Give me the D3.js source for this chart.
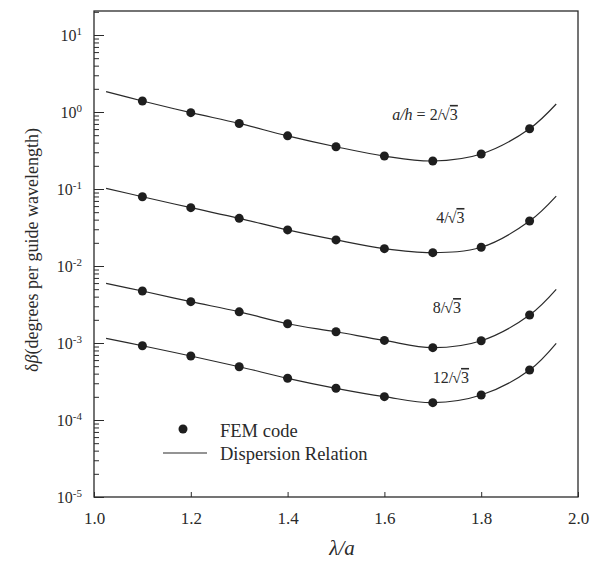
<!DOCTYPE html>
<html>
<head>
<meta charset="utf-8">
<script src="https://cdn.jsdelivr.net/npm/d3@7"></script>
<style>
  body { margin: 0; background: #fff; }
</style>
</head>
<body>
<div id="chart"></div>
<script>
// x positions of the FEM points and of the curve ends
var lambdaPts = [1.1, 1.2, 1.3, 1.4, 1.5, 1.6, 1.7, 1.8, 1.9]
var lambdaLine = [1.025, 1.1, 1.2, 1.3, 1.4, 1.5, 1.6, 1.7, 1.8, 1.9, 1.955]

// FEM code points, one array per a/h
var fem_2 = [1.39, 0.98, 0.71, 0.49, 0.354, 0.268, 0.231, 0.285, 0.607]
var fem_4 = [0.0794, 0.0572, 0.0416, 0.0294, 0.0218, 0.0168, 0.0149, 0.0175, 0.0384]
var fem_8 = [0.00473, 0.00344, 0.00254, 0.00178, 0.00140, 0.00108, 0.00087, 0.00107, 0.00231]
var fem_12 = [0.000922, 0.000678, 0.000492, 0.000348, 0.000258, 0.000201, 0.000168, 0.000211, 0.000446]

// dispersion relation curves
var disp_2 = [1.84, 1.39, 0.98, 0.71, 0.49, 0.354, 0.268, 0.231, 0.285, 0.607, 1.27]
var disp_4 = [0.102, 0.0794, 0.0572, 0.0416, 0.0294, 0.0218, 0.0168, 0.0149, 0.0175, 0.0384, 0.081]
var disp_8 = [0.00596, 0.00473, 0.00344, 0.00254, 0.00178, 0.00140, 0.00108, 0.00087, 0.00107, 0.00231, 0.00498]
var disp_12 = [0.00115, 0.000922, 0.000678, 0.000492, 0.000348, 0.000258, 0.000201, 0.000168, 0.000211, 0.000446, 0.000991]

// curve labels: prefix, root part, anchor (lambda, value)
var curveLabels = [
  {pre: 'a/h', num: '2', x: 1.616, y: 0.79},
  {pre: '', num: '4', x: 1.707, y: 0.0362},
  {pre: '', num: '8', x: 1.70, y: 0.00245},
  {pre: '', num: '12', x: 1.70, y: 0.000303}
]

var xTicks = [1.0, 1.2, 1.4, 1.6, 1.8, 2.0]
var yDecades = [-5, -4, -3, -2, -1, 0, 1]

var W = 599, H = 566
var m = {left: 94, right: 578, top: 11, bottom: 497}
var ink = '#2a2a2a'
var serif = '"Liberation Serif", "Times New Roman", Times, serif'

var svg = d3.select('#chart').append('svg')
    .attr('width', W).attr('height', H)
    .attr('font-family', serif)
    .style('font-family', serif)

var x = d3.scaleLinear().domain([1.0, 2.0]).range([m.left, m.right])
var y = d3.scaleLog().domain([1e-5, 20.5]).range([m.bottom, m.top])

// frame
svg.append('rect')
  .attr('x', m.left).attr('y', m.top)
  .attr('width', m.right - m.left).attr('height', m.bottom - m.top)
  .attr('fill', 'none').attr('stroke', ink).attr('stroke-width', 1.3)

// x axis, ticks pointing inward
var xg = svg.append('g')
  .attr('transform', 'translate(0,' + m.bottom + ')')
  .call(d3.axisBottom(x).tickValues(xTicks).tickSize(-5).tickPadding(15).tickFormat(d3.format('.1f')))
  .attr('font-family', serif).attr('font-size', 17)
xg.select('.domain').remove()
xg.selectAll('line').attr('stroke', ink)
xg.selectAll('text').attr('fill', ink)

// y axis, minor ticks
var minors = []
yDecades.forEach(e => {
  for (var k = 2; k <= 9; k++) {
    var v = k * Math.pow(10, e)
    if (v < y.domain()[1]) minors.push(v)
  }
})
var ym = svg.append('g')
  .attr('transform', 'translate(' + m.left + ',0)')
  .call(d3.axisLeft(y).tickValues(minors).tickSize(-5).tickFormat(''))
ym.select('.domain').remove()
ym.selectAll('line').attr('stroke', ink)

// y axis, decades
var yg = svg.append('g')
  .attr('transform', 'translate(' + m.left + ',0)')
  .call(d3.axisLeft(y).tickValues(yDecades.map(e => Math.pow(10, e))).tickSize(-10).tickPadding(12).tickFormat(''))
  .attr('font-family', serif).attr('font-size', 16)
yg.select('.domain').remove()
yg.selectAll('line').attr('stroke', ink)
yg.selectAll('.tick text')
  .attr('fill', ink)
  .each(function (d) {
    var t = d3.select(this)
    var e = Math.round(Math.log10(d))
    t.append('tspan').text('10')
    t.append('tspan').attr('dy', '-0.5em').attr('font-size', 11).text(e < 0 ? '-' + (-e) : e)
  })

// curves
var line = d3.line()
  .x((d, i) => x(lambdaLine[i]))
  .y(d => y(d))
  .curve(d3.curveCatmullRom.alpha(0.5))

var curves = [disp_2, disp_4, disp_8, disp_12]
var fems = [fem_2, fem_4, fem_8, fem_12]

svg.selectAll('.disp')
  .data(curves)
  .enter()
  .append('path')
  .attr('class', 'disp')
  .attr('d', line)
  .attr('fill', 'none')
  .attr('stroke', ink)
  .attr('stroke-width', 1.2)

fems.forEach(s => {
  svg.selectAll(null)
    .data(s)
    .enter()
    .append('circle')
    .attr('cx', (d, i) => x(lambdaPts[i]))
    .attr('cy', d => y(d))
    .attr('r', 4.5)
    .attr('fill', '#1e1e1e')
})

// curve labels, e.g. a/h = 2/sqrt3
curveLabels.forEach(l => {
  var t = svg.append('text')
    .attr('x', x(l.x)).attr('y', y(l.y))
    .attr('font-size', 16).attr('fill', ink)
  if (l.pre) {
    t.append('tspan').attr('font-style', 'italic').text(l.pre)
    t.append('tspan').text(' = ')
  }
  t.append('tspan').text(l.num + '/')
  t.append('tspan').attr('dx', -1).text('\u221A')
  t.append('tspan').style('text-decoration', 'overline').text('3')
})

// legend
var lg = svg.append('g')
lg.append('circle').attr('cx', 183).attr('cy', 429).attr('r', 4.5).attr('fill', '#1e1e1e')
lg.append('text').attr('x', 220).attr('y', 437).attr('font-size', 18.5).attr('fill', ink).text('FEM code')
lg.append('line').attr('x1', 163).attr('x2', 207).attr('y1', 453).attr('y2', 453)
  .attr('stroke', ink).attr('stroke-width', 1.2)
lg.append('text').attr('x', 220).attr('y', 460).attr('font-size', 18.5).attr('fill', ink).text('Dispersion Relation')

// axis titles
svg.append('text')
  .attr('x', 342).attr('y', 555)
  .attr('text-anchor', 'middle')
  .attr('font-size', 21).attr('font-style', 'italic').attr('fill', ink)
  .text('\u03BB/a')

var yt = svg.append('text')
  .attr('transform', 'translate(32,250) rotate(-90)')
  .attr('text-anchor', 'middle')
  .attr('dominant-baseline', 'central')
  .attr('font-size', 18).attr('fill', ink)
yt.append('tspan').text('\u03B4')
yt.append('tspan').attr('font-style', 'italic').text('\u03B2')
yt.append('tspan').text('(degrees per guide wavelength)')
</script>
</body>
</html>
